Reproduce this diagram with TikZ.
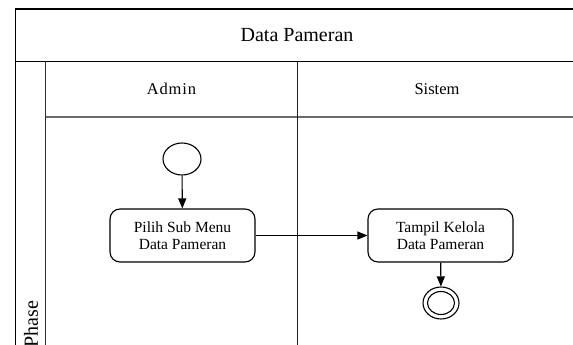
\documentclass[tikz,border=0pt]{standalone}
\usepackage{fontspec}
\setmainfont{Liberation Serif}
\usetikzlibrary{arrows.meta,shapes.geometric}

\tikzset{
  lanerule/.style={line width=1.1pt, draw=black},
  action/.style={draw, line width=1.1pt, rounded corners=10pt,
    minimum width=145pt, minimum height=53pt, align=center,
    inner sep=2pt, font=\fontsize{15.5}{17}\selectfont},
  initial/.style={draw, ellipse, line width=1.1pt,
    minimum width=38pt, minimum height=32pt, inner sep=0pt},
  final/.style={draw, ellipse, line width=1.1pt, inner sep=0pt},
  flow/.style={line width=1.1pt, -{Triangle[length=10pt,width=8pt]}},
  heading/.style={inner sep=0pt},
}

\begin{document}
\begin{tikzpicture}[x=1pt, y=-1pt]
  \useasboundingbox (0,0) rectangle (573,345);
  \clip (0,0) rectangle (573,345);

  % pool frame and title row
  \draw[lanerule] (15.5,9) rectangle (578,360);
  \draw[lanerule] (15.5,61.5) -- (578,61.5);
  \node[heading, font=\fontsize{20}{24}\selectfont] (title) at (297,35) {Data Pameran};

  % lane header band and lane separators
  \draw[line width=2pt, draw=black!58] (45.5,116.7) -- (578,116.7);
  \draw[line width=1.8pt, draw=black!82] (45.5,61.5) -- (45.5,360);
  \draw[line width=1.8pt, draw=black!88] (297.5,61.5) -- (297.5,360);
  \node[heading, font=\fontsize{16.5}{20}\selectfont\addfontfeatures{LetterSpace=5}] (admin) at (171.5,89) {Admin};
  \node[heading, font=\fontsize{16.5}{20}\selectfont] (sistem) at (437,89) {Sistem};

  % phase label
  \node[heading, rotate=90, font=\fontsize{20}{24}\selectfont] (phase) at (31,324) {Phase};

  % activity flow
  \node[initial] (start) at (182,159) {};
  \node[action] (pilih) at (182.5,235.5) {Pilih Sub Menu\\Data Pameran};
  \node[action] (tampil) at (440.5,235.5) {Tampil Kelola\\Data Pameran};
  \node[final, minimum width=36pt, minimum height=32pt] (end) at (441,303) {};
  \node[final, minimum width=27pt, minimum height=23pt] (endin) at (441,303) {};

  \draw[flow] (start) -- (pilih);
  \draw[flow] (pilih) -- (tampil);
  \draw[flow] (tampil) -- (end);
\end{tikzpicture}
\end{document}
